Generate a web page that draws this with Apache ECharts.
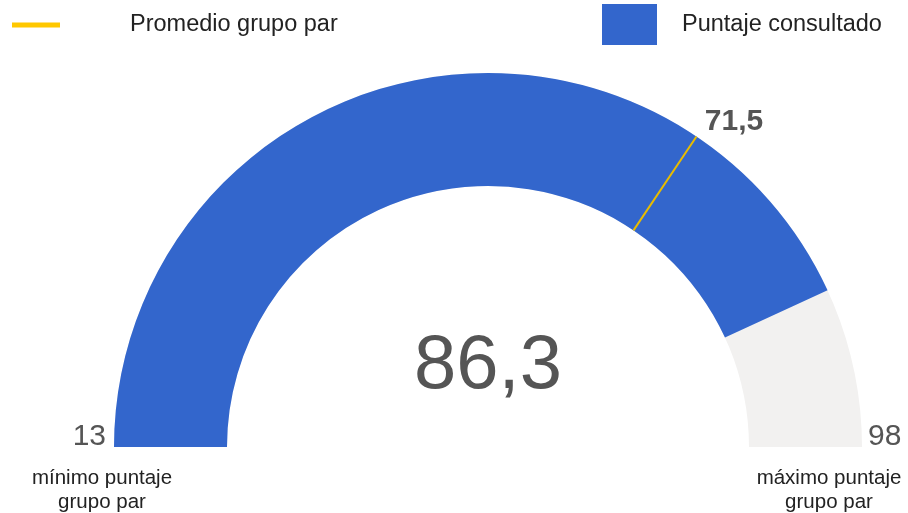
<!DOCTYPE html>
<html>
<head>
<meta charset="utf-8">
<script src="https://cdn.jsdelivr.net/npm/echarts@6/dist/echarts.min.js"></script>
<style>
  html, body { margin: 0; padding: 0; background: #fff; }
  #gauge { width: 908px; height: 513px; }
</style>
</head>
<body>
<div id="gauge"></div>
<script>
// datos del indicador
const seriesNames = ['Promedio grupo par', 'Puntaje consultado'];
const scoreValue = [86.3];
const peerAverage = [71.5];
const scaleMin = [13];
const scaleMax = [98];
const endLabels = ['mínimo puntaje\ngrupo par', 'máximo puntaje\ngrupo par'];

const fmt = (v) => String(v).replace('.', ',');

const chart = echarts.init(document.getElementById('gauge'));

const cx = 488, cy = 447, outerR = 374, band = 113;
const font = 'Liberation Sans, Arial, sans-serif';

// posicion de la etiqueta del promedio (junto al extremo exterior de la marca)
const frac = (peerAverage[0] - scaleMin[0]) / (scaleMax[0] - scaleMin[0]);
const ang = Math.PI * (1 - frac);
const avgOffset = [Math.cos(ang) * 382 + 33, -Math.sin(ang) * 382 - 8];

chart.setOption({
  animation: false,
  legend: [
    {
      left: 12, top: 13, padding: 0,
      itemWidth: 48, itemHeight: 5,
      selectedMode: false,
      textStyle: { fontFamily: font, fontSize: 23.5, color: '#222', padding: [0, 0, 0, 65] },
      data: [{ name: seriesNames[0], icon: 'rect', itemStyle: { color: '#ffc800' } }]
    },
    {
      left: 602, top: 4, padding: 0,
      itemWidth: 55, itemHeight: 41,
      selectedMode: false,
      textStyle: { fontFamily: font, fontSize: 23.5, color: '#222', padding: [2, 0, 0, 20] },
      data: [{ name: seriesNames[1], icon: 'rect', itemStyle: { color: '#3366cc' } }]
    }
  ],
  graphic: [
    { type: 'text', x: 106, y: 437, style: { text: String(scaleMin[0]), font: '30px ' + font, fill: '#555', align: 'right', verticalAlign: 'middle' } },
    { type: 'text', x: 868, y: 437, style: { text: String(scaleMax[0]), font: '30px ' + font, fill: '#555', align: 'left', verticalAlign: 'middle' } },
    { type: 'text', x: 102, y: 466, style: { text: endLabels[0], font: '20.5px ' + font, fill: '#222', align: 'center', lineHeight: 24 } },
    { type: 'text', x: 829, y: 466, style: { text: endLabels[1], font: '20.5px ' + font, fill: '#222', align: 'center', lineHeight: 24 } }
  ],
  series: [
    {
      name: seriesNames[1],
      type: 'gauge',
      z: 2,
      center: [cx, cy],
      radius: outerR,
      startAngle: 180,
      endAngle: 0,
      min: scaleMin[0],
      max: scaleMax[0],
      itemStyle: { color: '#3366cc' },
      progress: { show: true, width: band, roundCap: false, itemStyle: { color: '#3366cc' } },
      axisLine: { lineStyle: { width: band, color: [[1, '#f2f1f0']] } },
      axisTick: { show: false },
      splitLine: { show: false },
      axisLabel: { show: false },
      pointer: { show: false },
      anchor: { show: false },
      title: { show: false },
      detail: {
        offsetCenter: [0, -80],
        fontFamily: font,
        fontSize: 76,
        fontWeight: 'normal',
        color: '#555',
        formatter: fmt
      },
      data: [{ value: scoreValue[0], name: seriesNames[1] }]
    },
    {
      name: seriesNames[0],
      type: 'gauge',
      z: 6,
      center: [cx, cy],
      radius: outerR,
      startAngle: 180,
      endAngle: 0,
      min: scaleMin[0],
      max: scaleMax[0],
      itemStyle: { color: '#ffc800' },
      axisLine: { show: false },
      axisTick: { show: false },
      splitLine: { show: false },
      axisLabel: { show: false },
      progress: { show: false },
      anchor: { show: false },
      title: { show: false },
      pointer: {
        show: true,
        showAbove: true,
        icon: 'rect',
        length: band,
        width: 2,
        offsetCenter: [0, -(outerR - band)],
        itemStyle: { color: '#e8bc00' }
      },
      detail: {
        offsetCenter: avgOffset,
        fontFamily: font,
        fontSize: 30,
        fontWeight: 'bold',
        color: '#555',
        formatter: fmt
      },
      data: [{ value: peerAverage[0], name: seriesNames[0] }]
    }
  ]
});
</script>
</body>
</html>
